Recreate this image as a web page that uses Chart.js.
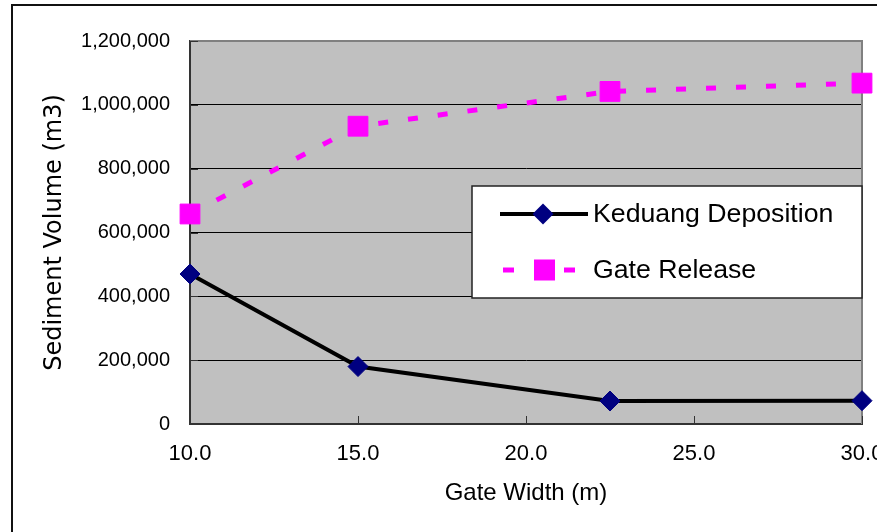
<!DOCTYPE html>
<html>
<head>
<meta charset="utf-8">
<title>Sediment Volume vs Gate Width</title>
<script src="https://cdn.jsdelivr.net/npm/chart.js@4.4.1/dist/chart.umd.min.js"></script>
<style>
  html, body { margin: 0; padding: 0; background: #fff; }
  canvas { display: block; }
</style>
</head>
<body>
<canvas id="sedimentChart" width="877" height="532"></canvas>
<script>
// gate widths (m) and sediment volumes (m3) for each run
const gateWidth = [10, 15, 22.5, 30];
const keduangDeposition = [470000, 180000, 72000, 73000];
const gateRelease = [658000, 933000, 1042000, 1068000];

const seriesNames = ['Keduang Deposition', 'Gate Release'];
const xTicks = [10, 15, 20, 25, 30];
const yTicks = [0, 200000, 400000, 600000, 800000, 1000000, 1200000];

const PLOT_BG = '#C0C0C0';
const KEDUANG_LINE = '#000000';
const KEDUANG_MARK = '#000080';
const RELEASE = '#FF00FF';
const RELEASE_DASH = [10, 20];

function toPoints(xs, ys) {
    return xs.map((x, i) => ({ x: x, y: ys[i] }));
}

// gray plot background, drawn before everything else
const plotBackground = {
    id: 'plotBackground',
    beforeDraw(chart) {
        const { ctx, chartArea: a } = chart;
        ctx.save();
        ctx.fillStyle = PLOT_BG;
        ctx.fillRect(a.left, a.top, a.right - a.left, a.bottom - a.top);
        ctx.restore();
    },
    beforeDatasetsDraw(chart) {
        const { ctx, chartArea: a, scales } = chart;
        ctx.save();
        // top and right edge of the plot frame
        ctx.strokeStyle = '#808080';
        ctx.lineWidth = 2;
        ctx.beginPath();
        ctx.moveTo(a.left, a.top);
        ctx.lineTo(a.right, a.top);
        ctx.lineTo(a.right, a.bottom);
        ctx.stroke();
        // short tick marks pointing into the plot
        ctx.strokeStyle = '#333';
        ctx.lineWidth = 1;
        ctx.beginPath();
        yTicks.forEach(v => {
            const y = Math.round(scales.y.getPixelForValue(v)) + 0.5;
            ctx.moveTo(a.left, y);
            ctx.lineTo(a.left + 8, y);
        });
        xTicks.forEach(v => {
            const x = Math.round(scales.x.getPixelForValue(v)) + 0.5;
            ctx.moveTo(x, a.bottom);
            ctx.lineTo(x, a.bottom - 8);
        });
        ctx.stroke();
        ctx.restore();
    }
};

// boxed legend sitting inside the plot, plus the outer frame
const boxLegend = {
    id: 'boxLegend',
    afterDraw(chart) {
        const { ctx, chartArea: a } = chart;
        const w = 390, h = 112;
        const left = a.right - w;
        const top = 186;
        ctx.save();

        ctx.fillStyle = '#fff';
        ctx.fillRect(left, top, w, h);
        ctx.strokeStyle = '#222';
        ctx.lineWidth = 1.5;
        ctx.strokeRect(left, top, w, h);

        // Keduang Deposition: solid line with diamond
        const y1 = top + 28;
        ctx.strokeStyle = KEDUANG_LINE;
        ctx.lineWidth = 4;
        ctx.beginPath();
        ctx.moveTo(left + 28, y1);
        ctx.lineTo(left + 116, y1);
        ctx.stroke();
        const cx1 = left + 71, r = 10.5;
        ctx.fillStyle = KEDUANG_MARK;
        ctx.beginPath();
        ctx.moveTo(cx1 - r, y1);
        ctx.lineTo(cx1, y1 - r);
        ctx.lineTo(cx1 + r, y1);
        ctx.lineTo(cx1, y1 + r);
        ctx.closePath();
        ctx.fill();

        // Gate Release: dashes with square
        const y2 = top + 84;
        ctx.fillStyle = RELEASE;
        ctx.fillRect(left + 31, y2 - 2.5, 11, 5);
        ctx.fillRect(left + 92, y2 - 2.5, 11, 5);
        ctx.fillRect(left + 62, y2 - 10.5, 21, 21);

        ctx.fillStyle = '#000';
        ctx.font = '26.7px "Liberation Sans", Arial, sans-serif';
        ctx.textBaseline = 'middle';
        ctx.fillText(seriesNames[0], left + 121, y1 + 1);
        ctx.fillText(seriesNames[1], left + 121, y2 + 1);

        // frame around the whole figure
        ctx.strokeStyle = '#111';
        ctx.lineWidth = 2;
        ctx.beginPath();
        ctx.moveTo(12, chart.height);
        ctx.lineTo(12, 5);
        ctx.lineTo(chart.width, 5);
        ctx.stroke();
        ctx.restore();
    }
};

const ctx = document.getElementById('sedimentChart').getContext('2d');

const chart = new Chart(ctx, {
    type: 'line',
    data: {
        datasets: [
            {
                label: seriesNames[0],
                data: toPoints(gateWidth, keduangDeposition),
                borderColor: KEDUANG_LINE,
                borderWidth: 4,
                pointStyle: 'rectRot',
                pointRadius: 10,
                pointBorderWidth: 1,
                pointBackgroundColor: KEDUANG_MARK,
                pointBorderColor: KEDUANG_MARK,
                tension: 0,
                clip: false,
                order: 0
            },
            {
                label: seriesNames[1],
                data: toPoints(gateWidth, gateRelease),
                borderColor: RELEASE,
                borderWidth: 5,
                borderDash: RELEASE_DASH,
                borderCapStyle: 'butt',
                pointStyle: 'rect',
                pointRadius: 14,
                pointBorderWidth: 1,
                pointBackgroundColor: RELEASE,
                pointBorderColor: RELEASE,
                tension: 0,
                clip: false,
                order: 1
            }
        ]
    },
    options: {
        responsive: false,
        animation: false,
        events: [],
        layout: {
            padding: { top: 41, right: 15, left: 0, bottom: 0 }
        },
        plugins: {
            legend: { display: false },
            tooltip: { enabled: false }
        },
        scales: {
            x: {
                type: 'linear',
                position: 'bottom',
                min: 10,
                max: 30,
                afterBuildTicks: s => { s.ticks = xTicks.map(v => ({ value: v })); },
                afterFit: s => { s.height = 108; s.paddingLeft = 0; s.paddingRight = 0; },
                grid: { color: 'rgba(0,0,0,0)', drawTicks: false },
                border: { display: true, color: '#333', width: 2 },
                ticks: {
                    color: '#000',
                    padding: 17,
                    maxRotation: 0,
                    autoSkip: false,
                    font: { family: '"Liberation Sans", Arial, sans-serif', size: 22 },
                    callback: v => Number(v).toFixed(1)
                },
                title: {
                    display: true,
                    text: 'Gate Width (m)',
                    color: '#000',
                    font: { family: '"Liberation Sans", Arial, sans-serif', size: 24 },
                    padding: { top: 0, bottom: 24 }
                }
            },
            y: {
                type: 'linear',
                min: 0,
                max: 1200000,
                afterBuildTicks: s => { s.ticks = yTicks.map(v => ({ value: v })); },
                afterFit: s => { s.width = 190; },
                grid: {
                    drawTicks: false,
                    lineWidth: 1,
                    color: c => (c.tick && (c.tick.value === 0 || c.tick.value === 1200000)) ? 'rgba(0,0,0,0)' : '#000'
                },
                border: { display: true, color: '#333', width: 2 },
                ticks: {
                    color: '#000',
                    padding: 20,
                    autoSkip: false,
                    font: { family: '"Liberation Sans", Arial, sans-serif', size: 20 },
                    callback: v => Number(v).toLocaleString('en-US')
                },
                title: {
                    display: true,
                    text: 'Sediment Volume (m3)',
                    color: '#000',
                    font: { family: '"DejaVu Sans", sans-serif', size: 24 },
                    padding: { top: 40, bottom: 0 }
                }
            }
        }
    },
    plugins: [plotBackground, boxLegend]
});
</script>
</body>
</html>
